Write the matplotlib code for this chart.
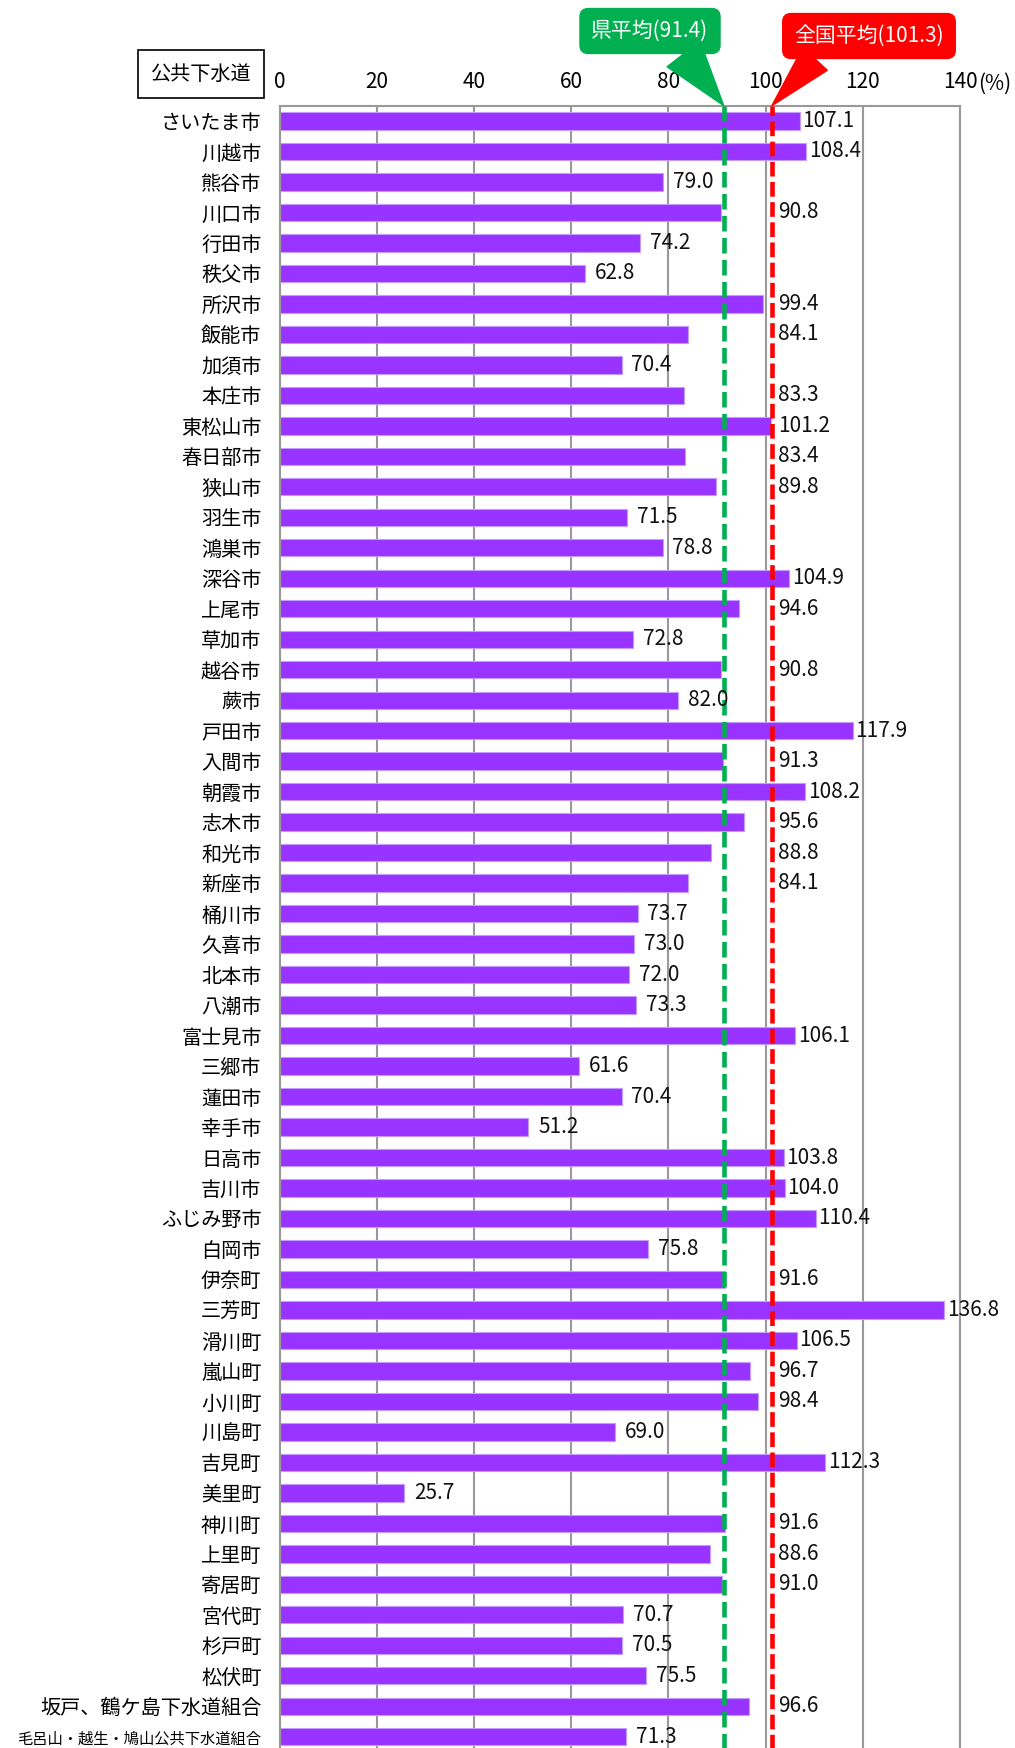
import matplotlib
matplotlib.use("Agg")
import matplotlib.pyplot as plt

plt.rcParams['font.family'] = ['Noto Sans CJK JP', 'DejaVu Sans']

# data
names = [
  "さいたま市", "川越市", "熊谷市", "川口市", "行田市", "秩父市", "所沢市", "飯能市",
  "加須市", "本庄市", "東松山市", "春日部市", "狭山市", "羽生市", "鴻巣市", "深谷市",
  "上尾市", "草加市", "越谷市", "蕨市", "戸田市", "入間市", "朝霞市", "志木市",
  "和光市", "新座市", "桶川市", "久喜市", "北本市", "八潮市", "富士見市", "三郷市",
  "蓮田市", "幸手市", "日高市", "吉川市", "ふじみ野市", "白岡市", "伊奈町", "三芳町",
  "滑川町", "嵐山町", "小川町", "川島町", "吉見町", "美里町", "神川町", "上里町",
  "寄居町", "宮代町", "杉戸町", "松伏町", "坂戸、鶴ケ島下水道組合",
  "毛呂山・越生・鳩山公共下水道組合",
]
values = [
  107.1, 108.4, 79.0, 90.8, 74.2, 62.8, 99.4, 84.1,
  70.4, 83.3, 101.2, 83.4, 89.8, 71.5, 78.8, 104.9,
  94.6, 72.8, 90.8, 82.0, 117.9, 91.3, 108.2, 95.6,
  88.8, 84.1, 73.7, 73.0, 72.0, 73.3, 106.1, 61.6,
  70.4, 51.2, 103.8, 104.0, 110.4, 75.8, 91.6, 136.8,
  106.5, 96.7, 98.4, 69.0, 112.3, 25.7, 91.6, 88.6,
  91.0, 70.7, 70.5, 75.5, 96.6, 71.3,
]
pref_avg = 91.4
nat_avg = 101.3
xticks = [0, 20, 40, 60, 80, 100, 120, 140]

W, H = 1015, 1748
fig = plt.figure(figsize=(W / 100, H / 100), dpi=100)
ax = fig.add_axes([279.5 / W, 1 - 1752 / H, (960 - 279.5) / W, (1752 - 105.7) / H])

n = len(names)
rows = list(range(n))
ax.barh(rows, values, height=0.57, color='#9933FF', edgecolor='#C49CFF', linewidth=0.8, zorder=2)

# average lines
ax.axvline(pref_avg, color='#00B050', lw=3.3, dashes=(3.4, 1.4), zorder=4)
ax.axvline(nat_avg, color='#FF0000', lw=3.3, dashes=(3.2, 1.2), zorder=4)

# value labels (moved past the average lines when they would collide)
for i, v in enumerate(values):
  if v <= 82.5:
    lx = v + 2.0
  elif v < 102.5:
    lx = 102.6
  else:
    lx = v + 0.5
  ax.text(lx, i, f"{v:.1f}", va='center', ha='left', fontsize=15, color='#111111', zorder=5)

ax.set_xlim(0, 140)
ax.set_ylim(n - 0.5, -0.5)
ax.xaxis.tick_top()
ax.set_xticks(xticks)
ax.set_xticklabels([str(t) for t in xticks], fontsize=15)
ax.tick_params(axis='x', length=0, pad=9)
ax.set_yticks(rows)
ax.set_yticklabels(names, fontsize=14.5)
ax.tick_params(axis='y', length=0, pad=13)
ax.get_yticklabels()[-1].set_fontsize(11)
ax.xaxis.grid(True, color='#999999', lw=1.5, zorder=0)
ax.set_axisbelow(True)
for s in ax.spines.values():
  s.set_color('#999999')
  s.set_linewidth(1.5)

fig.text(978 / W, 1 - 84 / H, "(%)", fontsize=15, va='center', ha='left')

# header box
fig.text(201 / W, 1 - 74 / H, "公共下水道", fontsize=14.5, va='center', ha='center',
         bbox=dict(boxstyle='square,pad=0.65', fc='white', ec='black', lw=1.2))

# callouts
ax.annotate(f"県平均({pref_avg})", xy=(pref_avg, -0.5), xycoords='data',
            xytext=(650, H - 31), textcoords='figure pixels',
            fontsize=15, color='white', ha='center', va='center',
            bbox=dict(boxstyle='round,pad=0.55,rounding_size=0.4', fc='#00B050', ec='#00B050'),
            arrowprops=dict(arrowstyle='wedge,tail_width=2.0,shrink_factor=0.5', fc='#00B050',
                            ec='#00B050', relpos=(0.7, 0.05), shrinkA=0, shrinkB=0),
            annotation_clip=False, zorder=6)
ax.annotate(f"全国平均({nat_avg})", xy=(nat_avg, -0.5), xycoords='data',
            xytext=(869, H - 36), textcoords='figure pixels',
            fontsize=15, color='white', ha='center', va='center',
            bbox=dict(boxstyle='round,pad=0.55,rounding_size=0.4', fc='#FF0000', ec='#FF0000'),
            arrowprops=dict(arrowstyle='wedge,tail_width=1.6,shrink_factor=0.5', fc='#FF0000',
                            ec='#FF0000', relpos=(0.22, 0.05), shrinkA=0, shrinkB=0),
            annotation_clip=False, zorder=6)

fig.savefig("out.png", dpi=100)
